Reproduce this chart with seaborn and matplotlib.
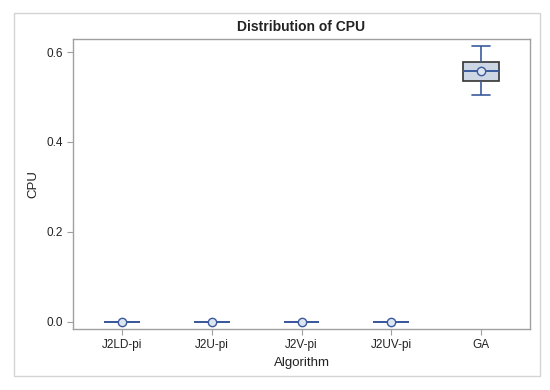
import matplotlib
matplotlib.use("Agg")
import matplotlib.pyplot as plt
import seaborn as sns
import pandas as pd
from matplotlib.patches import Rectangle

categories = ["J2LD-pi", "J2U-pi", "J2V-pi", "J2UV-pi", "GA"]
cpu_j2ld = [0.0004, 0.0005, 0.0005, 0.0005, 0.0006]
cpu_j2u = [0.0004, 0.0005, 0.0005, 0.0005, 0.0006]
cpu_j2v = [0.0004, 0.0005, 0.0005, 0.0005, 0.0006]
cpu_j2uv = [0.0003, 0.0004, 0.0004, 0.0004, 0.0005]
cpu_ga = [0.504, 0.536, 0.557, 0.578, 0.614]
yticks = [0.0, 0.2, 0.4, 0.6]

series = [cpu_j2ld, cpu_j2u, cpu_j2v, cpu_j2uv, cpu_ga]
df = pd.DataFrame({
    "Algorithm": [c for c, vals in zip(categories, series) for _ in vals],
    "CPU": [v for vals in series for v in vals],
})

sns.set_style("white")
plt.rcParams["font.family"] = ["Liberation Sans", "DejaVu Sans"]

fig = plt.figure(figsize=(5.5, 3.9), dpi=100)
W, H = 550, 390
ax = fig.add_axes([73 / W, 1 - 329 / H, (530 - 73) / W, (329 - 39) / H])

blue = "#3b5a9d"
sns.boxplot(
    data=df, x="Algorithm", y="CPU", order=categories, ax=ax,
    width=0.4, color="#c9d5e8", linecolor=blue, linewidth=1.2,
    showmeans=True,
    meanprops=dict(marker="o", markerfacecolor="#dde5f2", markeredgecolor=blue,
                   markersize=6, markeredgewidth=1.0),
    boxprops=dict(edgecolor="#333333", linewidth=1.2),
    whiskerprops=dict(color=blue, linewidth=1.2),
    capprops=dict(color=blue, linewidth=1.2),
    medianprops=dict(color=blue, linewidth=1.4),
    showfliers=False,
)

ax.set_xlim(-0.55, 4.55)
ax.set_ylim(-0.0156, 0.6289)
ax.set_yticks(yticks)
ax.set_yticklabels([f"{t:.1f}" for t in yticks])
for s in ax.spines.values():
    s.set_color("#a0a0a0")
    s.set_linewidth(1.0)
ax.tick_params(axis="both", colors="#a0a0a0", labelcolor="#222222",
               length=4, width=0.8, labelsize=8.5, direction="out")
ax.tick_params(left=True, bottom=True)
ax.set_xlabel("Algorithm", fontsize=9.5, color="#222222", labelpad=4)
ax.set_ylabel("CPU", fontsize=9.5, color="#222222", labelpad=5)
ax.set_title("Distribution of CPU", fontsize=10, fontweight="bold", color="#222222", pad=6)

fig.patches.append(Rectangle((14 / W, 1 - 376 / H), (540 - 14) / W, (376 - 13) / H,
                             transform=fig.transFigure, fill=False,
                             edgecolor="#d4d4d4", linewidth=1.0))

fig.savefig("out.png", dpi=100)
